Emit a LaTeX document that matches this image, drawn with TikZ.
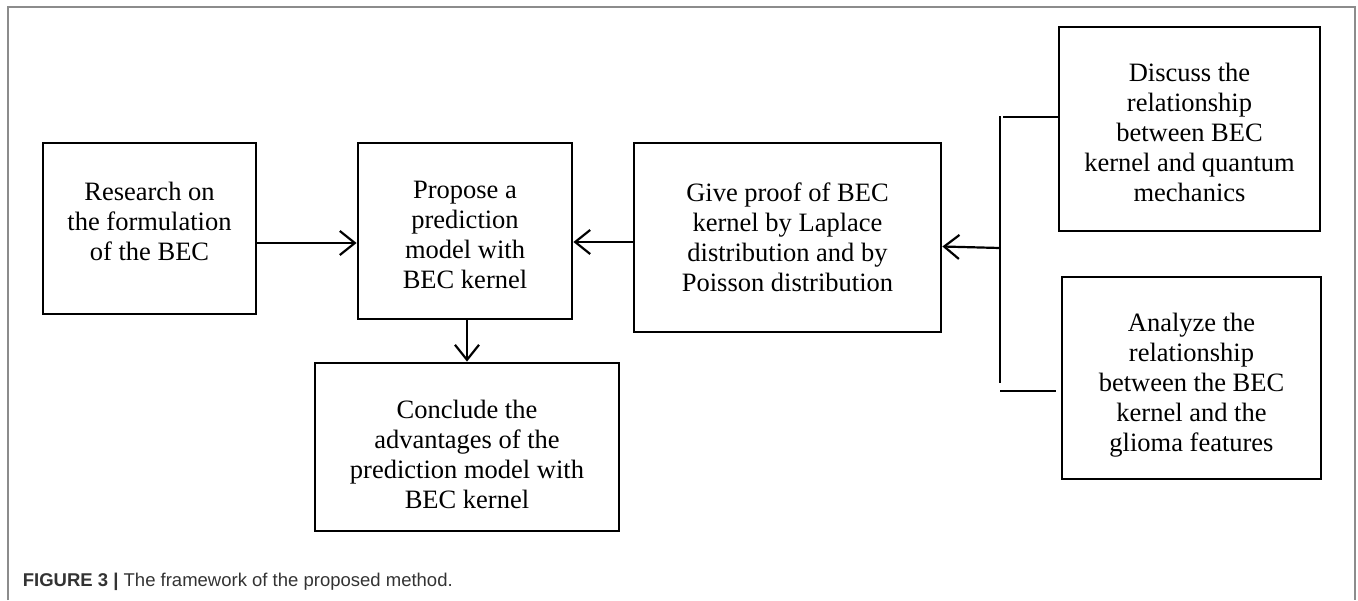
\documentclass[tikz,border=0pt]{standalone}
\usepackage{fontspec}
\setmainfont{Liberation Serif}
\newfontfamily\capfont{Liberation Sans}
\usetikzlibrary{arrows.meta}
\begin{document}
\begin{tikzpicture}[x=1pt,y=-1pt,
  box/.style={draw, line width=2.8pt, inner sep=0pt},
  txt/.style={align=center, inner sep=0pt, font=\fontsize{26.5}{30}\selectfont},
  arr/.style={line width=2.2pt, -{Straight Barb[length=15pt,width=24pt,line width=2.2pt]}},
  link/.style={line width=2.2pt},
  frame/.style={draw=black!45, line width=1.5pt}]
\useasboundingbox (0,0) rectangle (1358,600);
\draw[frame] (8,600) -- (8,7) -- (1355,7) -- (1355,600);

\node[box, minimum width=213pt, minimum height=171pt] (A) at (149.5,228.5) {};
\node[box, minimum width=214pt, minimum height=176pt] (B) at (465,231) {};
\node[box, minimum width=304pt, minimum height=168pt] (C) at (467,447) {};
\node[box, minimum width=307pt, minimum height=189pt] (F) at (787.5,237.5) {};
\node[box, minimum width=261pt, minimum height=204pt] (D) at (1189.5,129) {};
\node[box, minimum width=259pt, minimum height=202pt] (E) at (1191.5,378) {};

\node[txt] (At) at ([yshift=7pt]A.center) {Research on\\the formulation\\of the BEC};
\node[txt] (Bt) at ([yshift=-4pt]B.center) {Propose a\\prediction\\model with\\BEC kernel};
\node[txt] (Ct) at ([yshift=-7pt]C.center) {Conclude the\\advantages of the\\prediction model with\\BEC kernel};
\node[txt] (Ft) at (F.center) {Give proof of BEC\\kernel by Laplace\\distribution and by\\Poisson distribution};
\node[txt] (Dt) at ([yshift=-3.5pt]D.center) {Discuss the\\relationship\\between BEC\\kernel and quantum\\mechanics};
\node[txt] (Et) at ([yshift=-7pt]E.center) {Analyze the\\relationship\\between the BEC\\kernel and the\\glioma features};

\coordinate (jt) at (1000,116);
\coordinate (jb) at (1000,383);
\coordinate (jm) at (1000,248);
\coordinate (jtr) at (1003,117);
\coordinate (jbl) at (1000,391);

\draw[arr] ([yshift=-14.5pt]A.east) -- ([yshift=-12pt]B.west);
\draw[arr] ([yshift=-4.5pt]F.west) -- ([yshift=-11pt]B.east);
\draw[arr] ([xshift=2pt]B.south) -- (C.north);
\draw[link] (jt) -- (jb);
\draw[link] (jtr) -- ([yshift=12pt]D.west);
\draw[link] (jbl) -- ([xshift=-5pt,yshift=-13pt]E.west);
\draw[arr] (jm) -- ([yshift=-9pt]F.east);

\node[anchor=base west, inner sep=0pt, text=black!80,
  font=\capfont\fontsize{18.5}{21}\selectfont] (cap) at (22.7,586)
  {\textbf{FIGURE 3 |} The framework of the proposed method.};
\end{tikzpicture}
\end{document}
